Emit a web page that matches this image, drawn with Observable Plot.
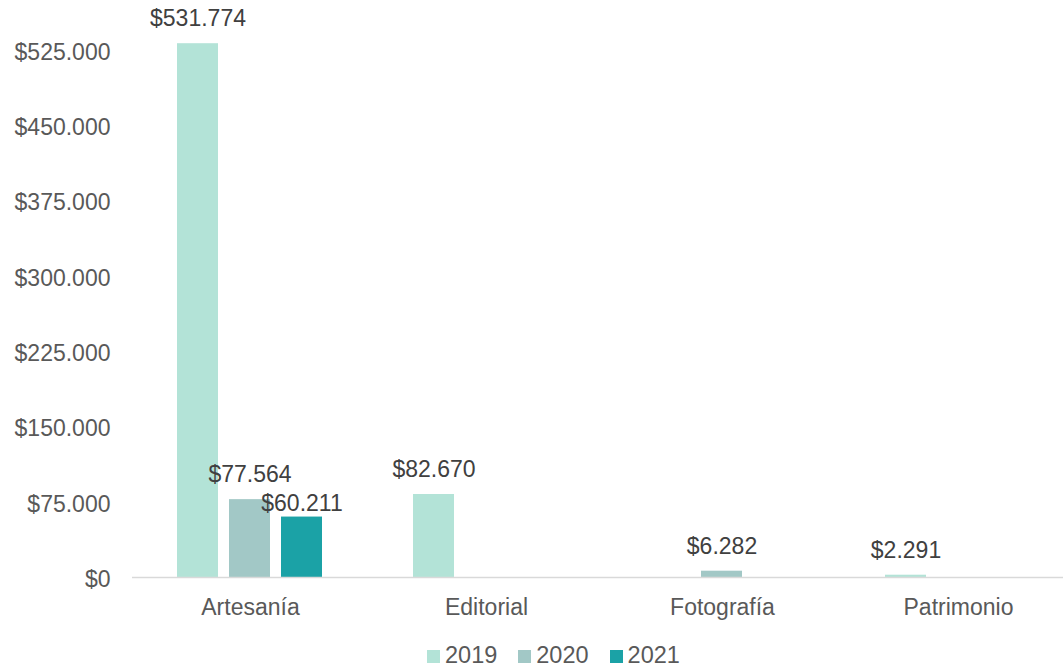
<!DOCTYPE html>
<html>
<head>
<meta charset="utf-8">
<script src="https://cdn.jsdelivr.net/npm/d3@7"></script>
<script src="https://cdn.jsdelivr.net/npm/@observablehq/plot@0.6"></script>
<style>
  html, body { margin: 0; padding: 0; background: #fff; overflow: hidden; }
  #chart { width: 1063px; height: 671px; position: relative; overflow: hidden; font-family: "Liberation Sans", Arial, Helvetica, sans-serif; }
  #legend { display: flex; align-items: center; padding-left: 427px; padding-top: 3px; height: 26px; font-size: 23.5px; line-height: 1; color: #595959; }
  #legend .item { display: flex; align-items: center; margin-right: 21px; }
  #legend .sw { width: 13px; height: 13px; margin-right: 5px; }
</style>
</head>
<body>
<div id="chart"></div>
<script>
const categories = ["Artesanía", "Editorial", "Fotografía", "Patrimonio"];
const years = ["2019", "2020", "2021"];
const values2019 = [531774, 82670, null, 2291];
const values2020 = [77564, null, 6282, null];
const values2021 = [60211, null, null, null];
const yTicks = [0, 75000, 150000, 225000, 300000, 375000, 450000, 525000];
const colors = ["#b3e3d7", "#a2c8c6", "#1ba2a6"];

const series = [values2019, values2020, values2021];
const rows = [];
categories.forEach((c, i) => {
  years.forEach((y, j) => {
    const v = series[j][i];
    if (v != null) rows.push({cat: c, year: y, value: v});
  });
});

const loc = d3.formatLocale({decimal: ",", thousands: ".", grouping: [3], currency: ["$", ""]});
const fmt = loc.format("$,.0f");

const plot = Plot.plot({
  width: 1063,
  height: 640,
  marginLeft: 132,
  marginRight: 0,
  marginTop: 50,
  marginBottom: 63,
  style: {fontSize: "23px", fontFamily: "'Liberation Sans', Arial, Helvetica, sans-serif", color: "#595959", background: "#fff", overflow: "visible"},
  fx: {domain: categories, range: [132, 1076], padding: 0, label: null, tickSize: 0, tickPadding: 21, axis: "bottom"},
  x: {domain: years, paddingInner: 0.21, paddingOuter: 0.874, axis: null},
  y: {domain: [0, 525000], label: null, axis: null},
  color: {domain: years, range: colors},
  marks: [
    Plot.axisY({ticks: yTicks, tickFormat: fmt, tickSize: 0, tickPadding: 22, label: null, dy: 2}),
    Plot.barY(rows, {fx: "cat", x: "year", y: "value", fill: "year"}),
    Plot.ruleY([0], {stroke: "#d9d9d9", strokeWidth: 1.5}),
    Plot.text(rows.filter(d => d.year !== "2021"), {fx: "cat", x: "year", y: "value", text: d => fmt(d.value), dy: -25, fill: "#404040", fontSize: 23}),
    Plot.text(rows.filter(d => d.year === "2021"), {fx: "cat", x: "year", y: "value", text: d => fmt(d.value), dy: -13, fill: "#404040", fontSize: 23})
  ]
});

const chart = document.getElementById("chart");
chart.appendChild(plot);

const legend = d3.select(chart).append("div").attr("id", "legend");
years.forEach((y, i) => {
  const it = legend.append("div").attr("class", "item");
  it.append("div").attr("class", "sw").style("background", colors[i]);
  it.append("span").text(y);
});
</script>
</body>
</html>
